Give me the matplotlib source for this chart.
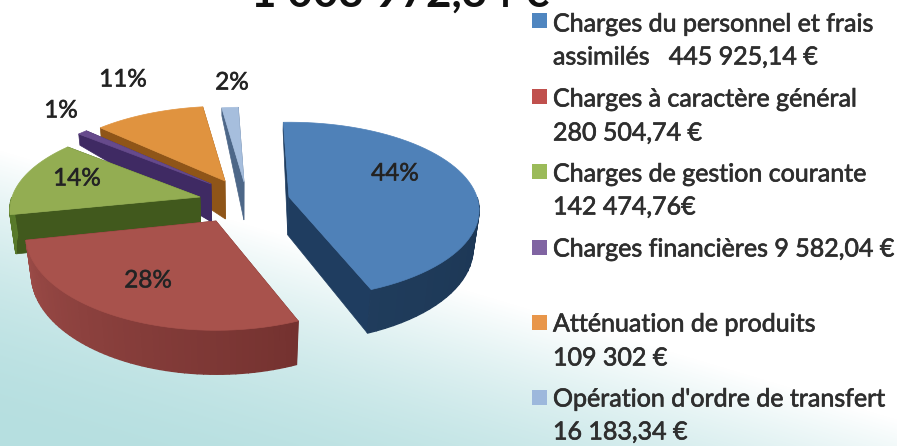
import numpy as np
import matplotlib
matplotlib.use('Agg')
import matplotlib.pyplot as plt
import matplotlib.patheffects as pe
from matplotlib.colors import to_rgb
from matplotlib.patches import Polygon, Rectangle

# Data
title = '1 003 972,34 €'
values = [445925.14, 280504.74, 142474.76, 9582.04, 109302, 16183.34]
pct_labels = ['44%', '28%', '14%', '1%', '11%', '2%']
legend_lines = [
    ['Charges du personnel et frais', 'assimilés   445 925,14 €'],
    ['Charges à caractère général', '280 504,74 €'],
    ['Charges de gestion courante', '142 474,76€'],
    ['Charges financières 9 582,04 €'],
    ['Atténuation de produits', '109 302 €'],
    ["Opération d'ordre de transfert", '16 183,34 €'],
]

# Colours
top_colors = ['#4f81b8', '#a8524c', '#93ad52', '#664a8c', '#e0933f', '#a6bedd']
face_colors = ['#1f3d60', '#6e2d2a', '#41591d', '#3f2a63', '#8f5518', '#4d6788']
wall_start = ['#264769', '#a04e4a', '#587a2a', '#4a3272', '#a5651f', '#5c7899']
wall_end = ['#1c3654', '#5a2120', '#41591d', '#3f2a63', '#8f5518', '#4d6788']
legend_colors = ['#4f86c0', '#c0504d', '#9bbb59', '#8064a2', '#e8964a', '#9db8dc']

# Layout, in pixels of the 897x446 picture
slice_centres = [(289, 197), (216, 221), (200, 197), (211, 184), (225, 181), (244, 182)]
slice_squash = [1, 1.08, 1, 1, 1, 1]
pct_pos = [(395, 174), (148, 281), (77, 179), (61, 111), (123, 80), (232, 83)]
legend_y = [[24, 57], [99, 133], [174, 207], [249], [324, 358], [399, 432]]
square_y = [13, 89, 164, 240, 315, 390]
RADIUS, SQUASH, PERSP, SHRINK = 188, 86, 0.15, 0.025
START_DEG = -2

plt.rcParams['font.family'] = ['Lato', 'DejaVu Sans']

fig = plt.figure(figsize=(8.97, 4.46), dpi=100)
ax = fig.add_axes([0, 0, 1, 1])
ax.set_xlim(0, 897)
ax.set_ylim(446, 0)
ax.axis('off')

# Background fade, white at the top to teal at the lower left
yy, xx = np.mgrid[0:446, 0:897]
s = np.clip((yy - 150 - 0.3 * xx) / 296, 0, 1)[..., None]
t = 1 - (1 - s) ** 2
bg = 1 - t * (1 - np.array(to_rgb('#b6dfe0')))
ax.imshow(bg, extent=(0, 897, 446, 0), aspect='auto', zorder=0)


def top_point(i, theta):
    cx, cy = slice_centres[i]
    up = np.cos(theta)
    w = 1 / (1 + PERSP * up)
    return cx + RADIUS * np.sin(theta) * w, cy - SQUASH * slice_squash[i] * up * w


def drop(x, y, up):
    # the side gets thin towards the back of the pie
    d = 38 - 6 * up if up < 0 else max(8, 38 - 42 * up)
    return 240 + (x - 240) * (1 - SHRINK * d / 38), y + d


def mix(a, b, f):
    a, b = np.array(to_rgb(a)), np.array(to_rgb(b))
    return tuple(a + (b - a) * f)


edges = np.radians(np.cumsum([0] + values) / sum(values) * 360 + START_DEG)

for i, centre in enumerate(slice_centres):
    z = 10 - i
    start, stop = edges[i], edges[i + 1]
    arc = np.linspace(start, stop, 60)
    arc_pts = [top_point(i, a) for a in arc]

    # radial faces
    c_bot = drop(centre[0], centre[1], 0)
    for a in (stop, start):
        p = top_point(i, a)
        q = drop(p[0], p[1], np.cos(a))
        ax.add_patch(Polygon([centre, p, q, c_bot], closed=True, fc=face_colors[i],
                             ec=face_colors[i], lw=0.5, zorder=z))

    # outer wall, front part only
    front = [a for a in arc if np.pi / 2 < a < 3 * np.pi / 2]
    for j in range(len(front) - 1):
        a0, a1 = front[j], front[j + 1]
        p0, p1 = top_point(i, a0), top_point(i, a1)
        q0, q1 = drop(p0[0], p0[1], np.cos(a0)), drop(p1[0], p1[1], np.cos(a1))
        col = mix(wall_start[i], wall_end[i], (3 * np.pi / 2 - a0) / np.pi)
        ax.add_patch(Polygon([p0, p1, q1, q0], closed=True, fc=col, ec=col,
                             lw=1, zorder=z))

    # top surface
    ax.add_patch(Polygon([centre] + arc_pts, closed=True, fc=top_colors[i],
                         ec=top_colors[i], lw=0.5, zorder=z))

heavy = [pe.withStroke(linewidth=0.5, foreground='#333333')]
for i, label in enumerate(pct_labels):
    ax.text(pct_pos[i][0], pct_pos[i][1], label, fontsize=17.5, color='#222222',
            ha='center', va='center', zorder=20, path_effects=heavy)

ax.text(400, 7, title, fontsize=31.8, fontweight='bold', color='#111111',
        ha='center', va='baseline', zorder=20)

# Legend
for i, lines in enumerate(legend_lines):
    ax.add_patch(Rectangle((532, square_y[i]), 15, 15, fc=legend_colors[i], ec='none', zorder=20))
    for line, y in zip(lines, legend_y[i]):
        ax.text(553, y, line, fontsize=18, color='#2e2e2e', ha='left', va='center',
                zorder=20, path_effects=heavy)

fig.savefig('out.png', dpi=100)
